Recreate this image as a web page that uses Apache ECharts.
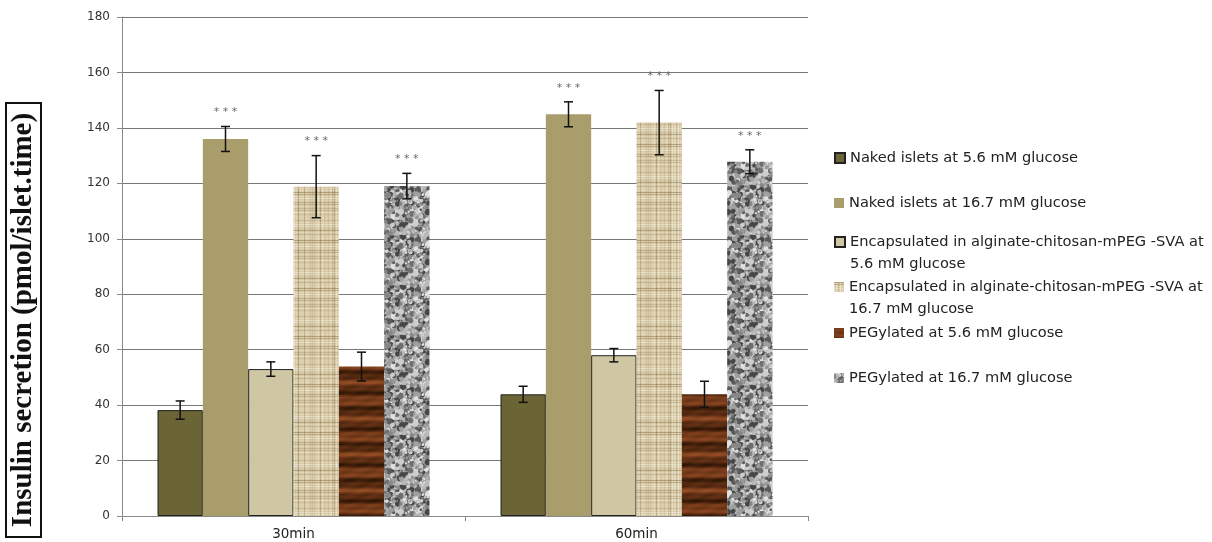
<!DOCTYPE html>
<html>
<head>
<meta charset="utf-8">
<script src="https://cdn.jsdelivr.net/npm/echarts@6/dist/echarts.min.js"></script>
<style>html,body{margin:0;padding:0;background:#fff;}#chart{width:1212px;height:542px;}</style>
</head>
<body>
<div id="chart"></div>
<script>
// ---- data ----
var categories = ['30min', '60min'];
var seriesNames = [
  'Naked islets at 5.6 mM glucose',
  'Naked islets at 16.7 mM glucose',
  'Encapsulated in alginate-chitosan-mPEG -SVA at\n5.6 mM glucose',
  'Encapsulated in alginate-chitosan-mPEG -SVA at\n16.7 mM glucose',
  'PEGylated at 5.6 mM glucose',
  'PEGylated at 16.7 mM glucose'
];
var naked56 = [38.2, 43.9];
var naked167 = [136, 144.9];
var enc56 = [53, 58];
var enc167 = [118.8, 141.9];
var peg56 = [53.9, 43.9];
var peg167 = [119, 127.8];
var naked56Err = [3.3, 2.9];
var naked167Err = [4.5, 4.5];
var enc56Err = [2.6, 2.4];
var enc167Err = [11.2, 11.6];
var peg56Err = [5.2, 4.7];
var peg167Err = [4.6, 4.3];
var significant = [false, true, false, true, false, true];
var yTicks = [0, 20, 40, 60, 80, 100, 120, 140, 160, 180];

var values = [naked56, naked167, enc56, enc167, peg56, peg167];
var errors = [naked56Err, naked167Err, enc56Err, enc167Err, peg56Err, peg167Err];

// ---- textures (style only, deterministic) ----
function mk(w, h) { var c = document.createElement('canvas'); c.width = w; c.height = h; return c; }
function lcg(seed) { var s = seed >>> 0; return function () { s = (s * 1664525 + 1013904223) >>> 0; return s / 4294967296; }; }
function linen() {
  var W = 48, c = mk(W, W), g = c.getContext('2d'), r = lcg(7);
  g.fillStyle = '#d6c8a5'; g.fillRect(0, 0, W, W);
  var pal = ['#bca883', '#ece3cb', '#a9966f', '#e2d6b8', '#c6b48f', '#988561', '#f1ead6'];
  for (var x = 0; x < W; x += 2) { g.fillStyle = pal[Math.floor(r() * 7)]; g.globalAlpha = 0.4 + r() * 0.4; g.fillRect(x, 0, 1 + (r() > 0.7 ? 1 : 0), W); }
  for (var y = 0; y < W; y += 2) { g.fillStyle = pal[Math.floor(r() * 7)]; g.globalAlpha = 0.3 + r() * 0.35; g.fillRect(0, y, W, 1); }
  g.globalAlpha = 1;
  return c;
}
function wood() {
  var c = mk(46, 72), g = c.getContext('2d');
  for (var y = 0; y < 72; y++) {
    var t = 0.5 + 0.32 * Math.sin(y * 0.35) + 0.18 * Math.sin(y * 0.87 + 1.3);
    var r = Math.round(50 + 95 * t), gg = Math.round(22 + 52 * t), b = Math.round(6 + 28 * t);
    for (var x = 0; x < 46; x += 2) {
      var d = 7 * Math.sin(x * 0.27 + y * 0.6);
      g.fillStyle = 'rgb(' + Math.round(r + d) + ',' + Math.round(gg + d * 0.5) + ',' + Math.round(b + d * 0.3) + ')';
      g.fillRect(x, y, 2, 1);
    }
  }
  return c;
}
function granite() {
  var W = 50, c = mk(W, W), g = c.getContext('2d'), r = lcg(12345);
  g.fillStyle = '#9c9c9c'; g.fillRect(0, 0, W, W);
  var pal = [70, 90, 110, 135, 160, 185, 205, 225];
  for (var i = 0; i < 420; i++) {
    var x = r() * W, y = r() * W, rad = 1 + r() * 2.2, lv = pal[Math.floor(r() * pal.length)];
    g.fillStyle = 'rgb(' + lv + ',' + lv + ',' + lv + ')';
    for (var dx = -1; dx <= 1; dx++) for (var dy = -1; dy <= 1; dy++) {
      g.beginPath(); g.ellipse(x + dx * W, y + dy * W, rad, rad * (0.6 + r() * 0.5), r() * 3, 0, Math.PI * 2); g.fill();
    }
  }
  return c;
}

var fills = [
  { color: '#6b6435', borderColor: '#222', borderWidth: 1 },
  { color: '#a99d6b', borderColor: '#a99d6b', borderWidth: 0 },
  { color: '#cfc6a4', borderColor: '#222', borderWidth: 1 },
  { color: { image: linen(), repeat: 'repeat' }, borderWidth: 0 },
  { color: { image: wood(), repeat: 'repeat' }, borderWidth: 0 },
  { color: { image: granite(), repeat: 'repeat' }, borderWidth: 0 }
];

var CAT_GAP = 0.207;
var series = seriesNames.map(function (n, i) {
  return {
    name: n, type: 'bar', data: values[i], barGap: '0%', barCategoryGap: (CAT_GAP * 100) + '%',
    itemStyle: fills[i], emphasis: { disabled: true }
  };
});

var errData = [];
values.forEach(function (arr, s) {
  arr.forEach(function (v, c) { errData.push([c, s, v, errors[s][c], significant[s] ? 1 : 0]); });
});

series.push({
  type: 'custom', name: 'err', data: errData, z: 10, silent: true,
  encode: { x: 0, y: 2 },
  renderItem: function (params, api) {
    var c = api.value(0), s = api.value(1), v = api.value(2), e = api.value(3), sig = api.value(4);
    var band = api.size([1, 0])[0];
    var bw = band * (1 - CAT_GAP) / 6;
    var cx = api.coord([c, v])[0] + (s - 2.5) * bw;
    var yh = api.coord([c, v + e])[1], yl = api.coord([c, v - e])[1];
    var st = { stroke: '#111', lineWidth: 1.5 };
    var ch = [
      { type: 'line', shape: { x1: cx, y1: yh, x2: cx, y2: yl }, style: st },
      { type: 'line', shape: { x1: cx - 4.5, y1: yh, x2: cx + 4.5, y2: yh }, style: st },
      { type: 'line', shape: { x1: cx - 4.5, y1: yl, x2: cx + 4.5, y2: yl }, style: st }
    ];
    if (sig) {
      ch.push({ type: 'text', style: { text: '* * *', x: cx, y: yh - 14, align: 'center', verticalAlign: 'middle',
        fill: '#6b6b6b', font: '11px DejaVu Sans' } });
    }
    return { type: 'group', children: ch };
  }
});

var legendTops = [147, 192, 209, 254, 322, 367];
var legends = seriesNames.map(function (n, i) {
  var two = n.indexOf('\n') >= 0;
  return {
    data: [n], left: 834, top: legendTops[i], orient: 'vertical', padding: 0,
    itemWidth: 10, itemHeight: 10, icon: 'rect', selectedMode: false,
    formatter: two ? function (name) { return ' \n' + name; } : undefined,
    textStyle: { fontFamily: 'DejaVu Sans', fontSize: 14.6, color: '#222', lineHeight: 22 }
  };
});

var chart = echarts.init(document.getElementById('chart'));
chart.setOption({
  animation: false,
  grid: { left: 122, right: 404, top: 17, bottom: 26 },
  legend: legends,
  xAxis: {
    type: 'category', data: categories,
    axisLine: { lineStyle: { color: '#8a8a8a', width: 1 } },
    axisTick: { show: true, length: 5, lineStyle: { color: '#8a8a8a' } },
    axisLabel: { color: '#222', fontFamily: 'DejaVu Sans', fontSize: 13.5, margin: 11 }
  },
  yAxis: {
    type: 'value', min: yTicks[0], max: yTicks[yTicks.length - 1], interval: 20,
    axisLine: { show: true, lineStyle: { color: '#8a8a8a' } },
    axisTick: { show: true, length: 5, lineStyle: { color: '#8a8a8a' } },
    axisLabel: { color: '#333', fontFamily: 'DejaVu Sans', fontSize: 12, margin: 12 },
    splitLine: { lineStyle: { color: '#777', width: 1 } }
  },
  graphic: [
    { type: 'rect', shape: { x: 6, y: 103, width: 35, height: 434 }, style: { fill: 'none', stroke: '#111', lineWidth: 2 } },
    { type: 'text', x: 24, y: 320, rotation: Math.PI / 2,
      style: { text: 'Insulin secretion (pmol/islet.time)', align: 'center', verticalAlign: 'middle',
        font: 'bold 29px "Liberation Serif"', fill: '#111' } }
  ],
  series: series
});
</script>
</body>
</html>
